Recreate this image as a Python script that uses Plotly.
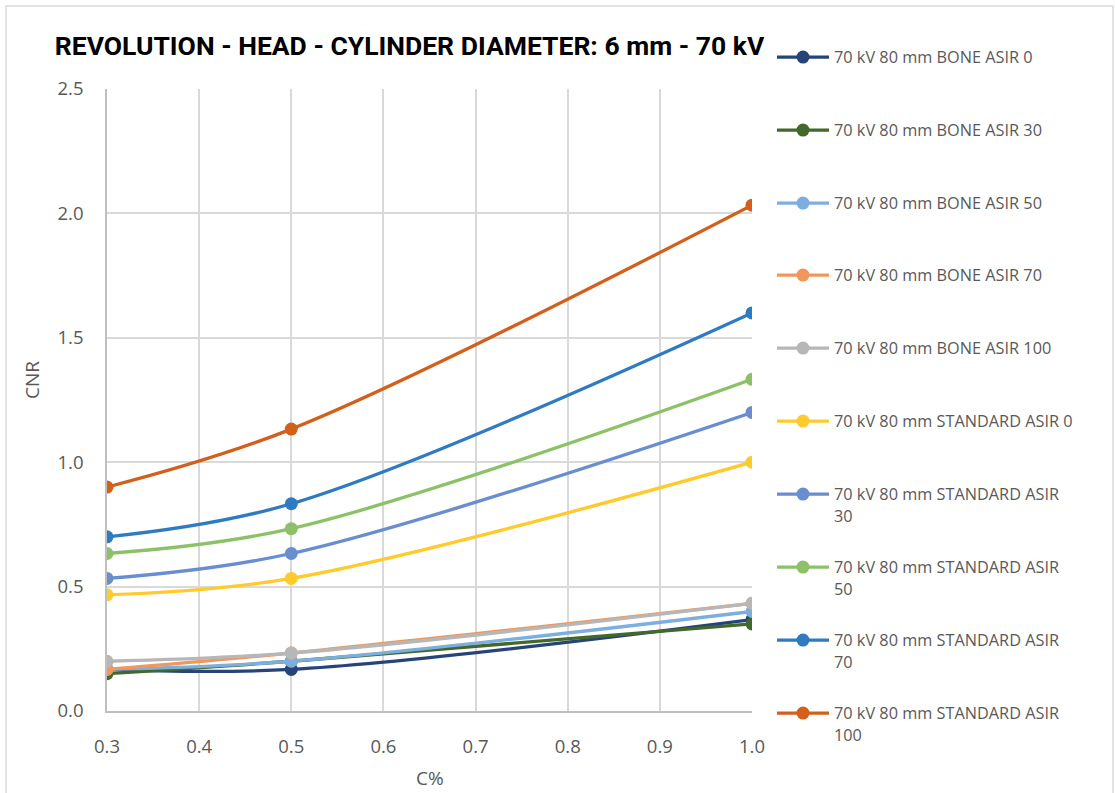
import plotly.graph_objects as go

# Contrast concentration (C%)
c_percent = [0.3, 0.5, 1.0]

series_names = [
    "70 kV 80 mm BONE ASIR 0",
    "70 kV 80 mm BONE ASIR 30",
    "70 kV 80 mm BONE ASIR 50",
    "70 kV 80 mm BONE ASIR 70",
    "70 kV 80 mm BONE ASIR 100",
    "70 kV 80 mm STANDARD ASIR 0",
    "70 kV 80 mm STANDARD ASIR<br>30",
    "70 kV 80 mm STANDARD ASIR<br>50",
    "70 kV 80 mm STANDARD ASIR<br>70",
    "70 kV 80 mm STANDARD ASIR<br>100",
]

# CNR values per series
bone_asir_0 = [0.167, 0.167, 0.367]
bone_asir_30 = [0.15, 0.2, 0.35]
bone_asir_50 = [0.167, 0.2, 0.4]
bone_asir_70 = [0.167, 0.233, 0.433]
bone_asir_100 = [0.2, 0.233, 0.433]
std_asir_0 = [0.467, 0.533, 1.0]
std_asir_30 = [0.533, 0.633, 1.2]
std_asir_50 = [0.633, 0.733, 1.333]
std_asir_70 = [0.7, 0.833, 1.6]
std_asir_100 = [0.9, 1.133, 2.033]

series_values = [
    bone_asir_0, bone_asir_30, bone_asir_50, bone_asir_70, bone_asir_100,
    std_asir_0, std_asir_30, std_asir_50, std_asir_70, std_asir_100,
]

colors = [
    "#264478", "#43682B", "#7CAFDD", "#F1975A", "#B7B7B7",
    "#FFCA2C", "#698ED0", "#8CC168", "#2F7BC2", "#D2601A",
]

# Layout geometry (pixels)
W, H = 1115, 793
L, R, T, B = 107, 752, 89, 711
pw, ph = R - L, B - T


def px_x(p):
    return (p - L) / pw


def px_y(p):
    return (B - p) / ph


fig = go.Figure()

legend_rows = [57, 130, 203, 275, 348, 421, 494, 567, 640, 713]

for i, (name, vals, col) in enumerate(zip(series_names, series_values, colors)):
    leg = "legend" if i == 0 else f"legend{i + 1}"
    fig.add_trace(go.Scatter(
        x=c_percent, y=vals, name=name,
        mode="lines+markers",
        line=dict(color=col, width=3.3, shape="spline", smoothing=1),
        marker=dict(color=col, size=13),
        legend=leg,
    ))

legend_font = dict(family="Open Sans, DejaVu Sans, sans-serif", size=16.3, color="#595959")
legends = {}
for i, row in enumerate(legend_rows):
    key = "legend" if i == 0 else f"legend{i + 1}"
    legends[key] = dict(
        x=px_x(772), y=px_y(row - 17), xanchor="left", yanchor="top",
        font=legend_font, bgcolor="rgba(0,0,0,0)", borderwidth=0,
        itemwidth=52, valign="top", tracegroupgap=0,
    )

tick_font = dict(family="Open Sans, sans-serif", size=18.5, color="#595959")
axis_title_font = dict(family="Open Sans, sans-serif", size=19, color="#595959")

fig.update_layout(
    width=W, height=H,
    margin=dict(l=L, r=W - R, t=T, b=H - B, autoexpand=False),
    paper_bgcolor="white", plot_bgcolor="white",
    title=dict(
        text="<b>REVOLUTION - HEAD - CYLINDER DIAMETER: 6 mm - 70 kV</b>",
        x=(57 + 762) / 2 / W, xanchor="center", y=1 - 46 / H, yanchor="middle",
        font=dict(family="Roboto, Open Sans, sans-serif", size=26.5, color="black"),
    ),
    xaxis=dict(
        range=[0.3, 1.0], dtick=0.1, tick0=0.3, tickformat=".1f",
        showgrid=True, gridcolor="#D9D9D9", gridwidth=1.5,
        showline=True, linecolor="#BFBFBF", linewidth=1.5,
        zeroline=False, ticks="", ticklabelstandoff=18, automargin=False,
        tickfont=tick_font,
    ),
    yaxis=dict(
        range=[0, 2.5], dtick=0.5, tickformat=".1f",
        showgrid=True, gridcolor="#D9D9D9", gridwidth=1.5,
        showline=True, linecolor="#BFBFBF", linewidth=1.5,
        zeroline=False, ticks="", ticklabelstandoff=18, automargin=False,
        tickfont=tick_font,
    ),
    showlegend=True,
    **legends,
)

# Axis titles
fig.add_annotation(
    text="C%", xref="paper", yref="paper", x=px_x(430), y=px_y(778),
    xanchor="center", yanchor="middle", showarrow=False, font=axis_title_font,
)
fig.add_annotation(
    text="CNR", xref="paper", yref="paper", x=px_x(32), y=px_y(380),
    xanchor="center", yanchor="middle", showarrow=False, textangle=-90,
    font=axis_title_font,
)

# Chart area border
fig.add_shape(
    type="rect", xref="paper", yref="paper",
    x0=px_x(6), x1=px_x(1113), y0=px_y(800), y1=px_y(6),
    line=dict(color="#D9D9D9", width=1.5), fillcolor="rgba(0,0,0,0)", layer="below",
)

fig.write_html("out.html")
